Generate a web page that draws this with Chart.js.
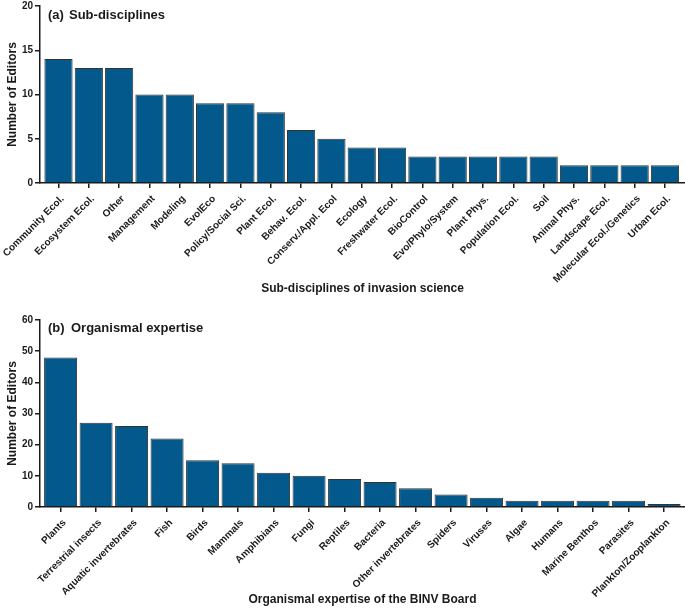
<!DOCTYPE html>
<html>
<head>
<meta charset="utf-8">
<script src="https://cdn.jsdelivr.net/npm/chart.js@4.4.1/dist/chart.umd.min.js"></script>
<style>
    body { margin: 0; background: #fff; }
    canvas { position: absolute; left: 0; }
</style>
</head>
<body>
<canvas id="subChart" width="685" height="300" style="top:0"></canvas>
<canvas id="orgChart" width="685" height="311" style="top:300px"></canvas>
<script>
// (a) sub-disciplines
const subLabels = ["Community Ecol.", "Ecosystem Ecol.", "Other", "Management", "Modeling", "EvolEco",
    "Policy/Social Sci.", "Plant Ecol.", "Behav. Ecol.", "Conserv./Appl. Ecol", "Ecology", "Freshwater Ecol.",
    "BioControl", "Evo/Phylo/System", "Plant Phys.", "Population Ecol.", "Soil", "Animal Phys.",
    "Landscape Ecol.", "Molecular Ecol./Genetics", "Urban Ecol."];
const subEditors = [14, 13, 13, 10, 10, 9, 9, 8, 6, 5, 4, 4, 3, 3, 3, 3, 3, 2, 2, 2, 2];
const subTicks = [0, 5, 10, 15, 20];

// (b) organismal expertise
const orgLabels = ["Plants", "Terrestrial insects", "Aquatic invertebrates", "Fish", "Birds", "Mammals",
    "Amphibians", "Fungi", "Reptiles", "Bacteria", "Other invertebrates", "Spiders", "Viruses", "Algae",
    "Humans", "Marine Benthos", "Parasites", "Plankton/Zooplankton"];
const orgEditors = [48, 27, 26, 22, 15, 14, 11, 10, 9, 8, 6, 4, 3, 2, 2, 2, 2, 1];
const orgTicks = [0, 10, 20, 30, 40, 50, 60];

const ink = "#1a1a1a",
    barBlue = "#03598c";

Chart.defaults.font.family = '"Liberation Sans", Arial, sans-serif';
Chart.defaults.color = ink;

const panelTitle = {
    id: "panelTitle",
    afterDraw(chart, args, opts) {
        const { ctx, chartArea } = chart;
        ctx.save();
        ctx.font = 'bold 13px "Liberation Sans", Arial, sans-serif';
        ctx.fillStyle = ink;
        ctx.textBaseline = "middle";
        ctx.fillText(opts.letter, chartArea.left + 8, chartArea.top + opts.dy);
        ctx.fillText(opts.text, chartArea.left + opts.gap, chartArea.top + opts.dy);
        ctx.restore();
    }
};

function barChart(el, labels, values, ticks, cfg) {
    return new Chart(el, {
        type: "bar",
        data: {
            datasets: [{
                data: values.map((v, i) => ({ x: i, y: v })),
                backgroundColor: barBlue,
                borderColor: "#333",
                borderWidth: 1,
                barPercentage: 0.93,
                categoryPercentage: 1
            }]
        },
        plugins: [panelTitle],
        options: {
            responsive: false,
            animation: false,
            devicePixelRatio: 1,
            layout: { padding: { top: cfg.top, right: 0, left: 0, bottom: 0 } },
            plugins: {
                legend: { display: false },
                tooltip: { enabled: false },
                panelTitle: cfg.panel
            },
            scales: {
                x: {
                    type: "linear",
                    offset: false,
                    min: cfg.xmin,
                    max: cfg.xmax,
                    afterBuildTicks: s => { s.ticks = labels.map((_, i) => ({ value: i })); },
                    afterFit: s => {
                        s.height = cfg.xh;
                        s.paddingLeft = 0;
                        s.paddingRight = 0;
                    },
                    ticks: {
                        autoSkip: false,
                        maxRotation: 45,
                        minRotation: 45,
                        padding: 5,
                        labelOffset: 4,
                        font: { size: 10, weight: "bold" },
                        callback: v => labels[v]
                    },
                    grid: { drawOnChartArea: false, offset: false, tickLength: 5, color: ink, lineWidth: 1.5 },
                    border: { color: ink, width: 1.5 },
                    title: { display: true, text: cfg.xTitle, font: { size: 12, weight: "bold" } }
                },
                y: {
                    min: ticks[0],
                    max: ticks[ticks.length - 1],
                    afterBuildTicks: s => { s.ticks = ticks.map(t => ({ value: t })); },
                    afterFit: s => { s.width = 40; },
                    ticks: { padding: 2, font: { size: 10, weight: "bold", lineHeight: 0.8 } },
                    grid: { drawOnChartArea: false, tickLength: 5, color: ink, lineWidth: 1.5 },
                    border: { color: ink, width: 1.5 },
                    title: {
                        display: true,
                        text: "Number of Editors",
                        font: { size: 12, weight: "bold" },
                        padding: { top: 5, bottom: 0 }
                    }
                }
            }
        }
    });
}

barChart(document.getElementById("subChart"), subLabels, subEditors, subTicks, {
    top: 0, xmin: -0.61, xmax: 20.66, xh: 117,
    xTitle: "Sub-disciplines of invasion science",
    panel: { letter: "(a)", text: "Sub-disciplines", gap: 29, dy: 9 }
});

barChart(document.getElementById("orgChart"), orgLabels, orgEditors, orgTicks, {
    top: 20, xmin: -0.58, xmax: 17.59, xh: 104,
    xTitle: "Organismal expertise of the BINV Board",
    panel: { letter: "(b)", text: "Organismal expertise", gap: 31, dy: 8 }
});
</script>
</body>
</html>
